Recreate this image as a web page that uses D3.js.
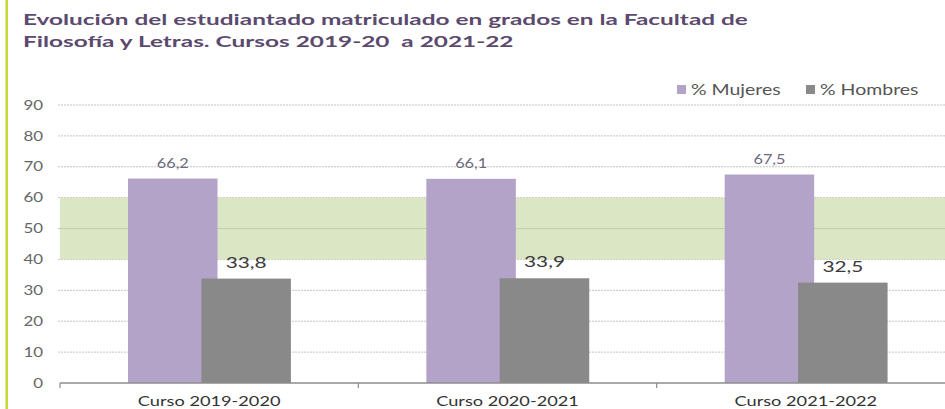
<!DOCTYPE html>
<html><head><meta charset="utf-8">
<script src="https://cdn.jsdelivr.net/npm/d3@7"></script>
<style>
html,body{margin:0;padding:0;background:#fff;}
svg{display:block;font-family:Lato,"Open Sans",sans-serif;}
.title{white-space:pre;}
</style></head>
<body>
<svg id="chart" width="945" height="409"></svg>
<script>
const titleLines = ["Evolución del estudiantado matriculado en grados en la Facultad de",
                    "Filosofía y Letras. Cursos 2019-20  a 2021-22"];
const categories = ["Curso 2019-2020", "Curso 2020-2021", "Curso 2021-2022"];
const seriesNames = ["% Mujeres", "% Hombres"];
const mujeres = [66.2, 66.1, 67.5];
const hombres = [33.8, 33.9, 32.5];
const yTicks = [0, 10, 20, 30, 40, 50, 60, 70, 80, 90];
const band = [40, 60];

(function () {
const SX = 1.3;
const colors = {"% Mujeres": "#b3a3c8", "% Hombres": "#898989"};

const svg = d3.select("#chart");
const W = 945, H = 409;
const pLeft = 60, pRight = 955, pTop = 105, pBottom = 383;

const x = d3.scaleBand().domain(categories).range([pLeft, pRight]).paddingInner(0).paddingOuter(0);
const y = d3.scaleLinear().domain([0, 90]).range([pBottom, pTop]);
const bw = x.bandwidth();
const barW = bw * 0.3;
const offs = d3.scaleOrdinal().domain(seriesNames).range([bw * 0.228, bw * 0.228 + barW * 0.82]);

function stretch(sel, sx) {
  sel.each(function () {
    const t = d3.select(this);
    const tx = +t.attr("x") || 0, ty = +t.attr("y") || 0;
    t.attr("transform", `translate(${tx},${ty}) scale(${sx},1)`).attr("x", 0).attr("y", 0);
  });
}

// left accent bar
svg.append("rect").attr("x", 5.5).attr("y", 0).attr("width", 2.5).attr("height", H).attr("fill", "#c6d633");

// title
const tt = svg.append("g").selectAll("text").data(titleLines).join("text")
  .attr("class", "title")
  .attr("x", 23).attr("y", (d, i) => 25 + i * 22)
  .attr("font-size", 16).attr("font-weight", 700).attr("fill", "#5b4a6e")
  .text(d => d);
const natural = tt.nodes()[0].getComputedTextLength();
stretch(tt, 725 / natural);

// gridlines
svg.append("g").selectAll("line").data(yTicks.filter(d => d > 0)).join("line")
  .attr("x1", pLeft - 2).attr("x2", W).attr("y1", d => y(d)).attr("y2", d => y(d))
  .attr("stroke", "#c4c4c4").attr("stroke-width", 1).attr("stroke-dasharray", "2,1");

// green band
svg.append("rect").attr("x", pLeft).attr("y", y(band[1])).attr("width", W - pLeft)
  .attr("height", y(band[0]) - y(band[1])).attr("fill", "#d6e3bc").attr("opacity", 0.88);
svg.append("line").attr("x1", pLeft).attr("x2", W).attr("y1", y(50)).attr("y2", y(50))
  .attr("stroke", "#c2cfa6").attr("stroke-width", 1);

// y axis
const ya = svg.append("g").attr("transform", `translate(${pLeft},0)`)
  .call(d3.axisLeft(y).tickValues(yTicks).tickSize(0).tickPadding(17).tickFormat(d3.format("d")));
ya.select(".domain").remove();
ya.selectAll("text").attr("font-size", 13).attr("fill", "#666").attr("font-family", "Lato,sans-serif");
stretch(ya.selectAll("text"), SX);

// bars
const data = categories.map((c, i) => ({cat: c, vals: [
  {s: "% Mujeres", v: mujeres[i]}, {s: "% Hombres", v: hombres[i]}]}));
const groups = svg.append("g").selectAll("g").data(data).join("g")
  .attr("transform", d => `translate(${x(d.cat)},0)`);
groups.selectAll("rect").data(d => d.vals).join("rect")
  .attr("x", d => offs(d.s)).attr("width", barW)
  .attr("y", d => y(d.v)).attr("height", d => y(0) - y(d.v))
  .attr("fill", d => colors[d.s]);

// value labels
const fmt = v => d3.format(".1f")(v).replace(".", ",");
const lbls = groups.selectAll("text").data(d => d.vals).join("text")
  .attr("x", d => offs(d.s) + barW / 2).attr("y", d => y(d.v) - 11)
  .attr("text-anchor", "middle")
  .attr("font-size", d => d.s === "% Mujeres" ? 12.5 : 16)
  .attr("fill", d => d.s === "% Mujeres" ? "#6c6a7e" : "#3a3a3a")
  .text(d => fmt(d.v));
stretch(lbls, SX);

// x axis
const xa = svg.append("g").attr("transform", `translate(0,${pBottom})`)
  .call(d3.axisBottom(x).tickSize(0).tickPadding(13));
xa.select(".domain").remove();
xa.selectAll("text").attr("font-size", 14).attr("fill", "#333").attr("font-family", "Lato,sans-serif");
stretch(xa.selectAll("text"), SX);
xa.append("line").attr("x1", pLeft).attr("x2", W).attr("y1", 0).attr("y2", 0)
  .attr("stroke", "#8c8c8c").attr("stroke-width", 1.5);
xa.selectAll(".bound").data(categories).join("line").attr("class", "bound")
  .attr("x1", d => x(d)).attr("x2", d => x(d)).attr("y1", 0).attr("y2", 5)
  .attr("stroke", "#8c8c8c").attr("stroke-width", 1.2);

// legend
const legPos = [677, 806];
const lg = svg.append("g").selectAll("g").data(seriesNames).join("g")
  .attr("transform", (d, i) => `translate(${legPos[i]},0)`);
lg.append("rect").attr("x", 0).attr("y", 85).attr("width", 9).attr("height", 9).attr("fill", d => colors[d]);
const lt = lg.append("text").attr("x", 14).attr("y", 95).attr("font-size", 15).attr("fill", "#555").text(d => d);
stretch(lt, SX);
})();
</script>
</body></html>
